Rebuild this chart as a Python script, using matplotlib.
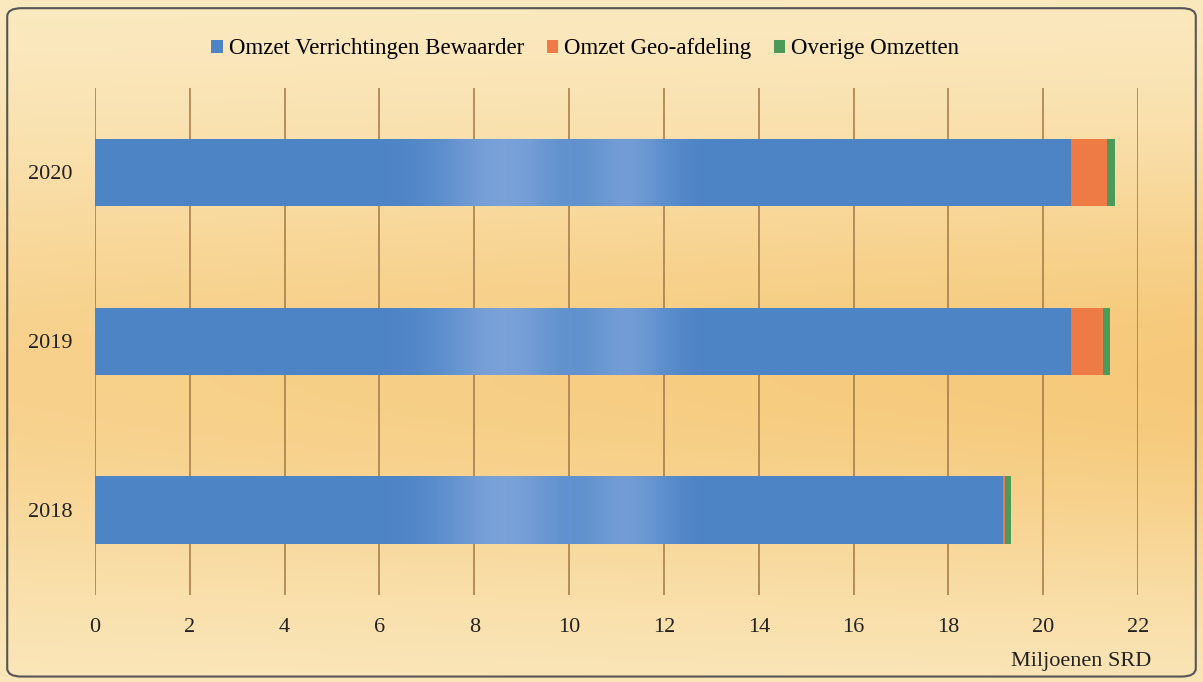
import numpy as np
import matplotlib.pyplot as plt
from matplotlib.patches import FancyBboxPatch
from matplotlib.colors import LinearSegmentedColormap

years = ["2018", "2019", "2020"]
series_names = ["Omzet Verrichtingen Bewaarder", "Omzet Geo-afdeling", "Overige Omzetten"]
bewaarder = [19.15, 20.57, 20.57]
geo = [0.04, 0.70, 0.78]
overige = [0.12, 0.13, 0.17]
colors = ["#4d84c6", "#ee7a46", "#4c9a57"]
x_ticks = list(range(0, 23, 2))

plt.rcParams["font.family"] = ["Liberation Serif", "DejaVu Serif"]

fig = plt.figure(figsize=(12.03, 6.82), dpi=100)

# background gradient
bg = fig.add_axes([0, 0, 1, 1], zorder=-10)
yy = np.linspace(0, 1, 300)[:, None]
xx = np.linspace(0, 1, 400)[None, :]
t = np.exp(-((yy - 0.55) / 0.35) ** 2) * (0.75 + 0.25 * xx)
bg_cmap = LinearSegmentedColormap.from_list("bg", ["#fbebc4", "#f6c97a"])
bg.imshow(t, cmap=bg_cmap, aspect="auto", extent=[0, 1, 0, 1], origin="upper", vmin=0, vmax=1)
bg.set_xlim(0, 1)
bg.set_ylim(0, 1)
bg.axis("off")
frame = FancyBboxPatch((0.006, 0.008), 0.988, 0.98, boxstyle="round,pad=0,rounding_size=0.012",
                       transform=fig.transFigure, fill=False, edgecolor="#555555", linewidth=1.5)
fig.patches.append(frame)

ax = fig.add_axes([0.079, 0.128, 0.867, 0.743])
ax.set_facecolor("none")
y = np.arange(len(years))
h = 0.4

left = np.zeros(len(years))
bars = []
for vals, c, name in zip([bewaarder, geo, overige], colors, series_names):
    b = ax.barh(y, vals, height=h, left=left, color=c, label=name, zorder=3, linewidth=0)
    bars.append(b)
    left = left + np.array(vals)

# subtle sheen on the blue bars
gx = np.linspace(0, 22, 600)
sheen = (np.exp(-((gx - 8.6) / 1.3) ** 2) + 0.8 * np.exp(-((gx - 11.2) / 0.9) ** 2))[None, :]
sheen_cmap = LinearSegmentedColormap.from_list("sheen", ["#4d84c6", "#7aa2d8"])
for rect in bars[0]:
    im = ax.imshow(sheen, cmap=sheen_cmap, aspect="auto", extent=[0, 22, rect.get_y(), rect.get_y() + h],
                   zorder=3.5, vmin=0, vmax=1)
    im.set_clip_path(rect)

ax.set_xlim(0, 22)
ax.set_ylim(-0.5, 2.5)
ax.set_xticks(x_ticks)
ax.set_yticks(y)
ax.set_yticklabels(years)
ax.grid(axis="x", color="#a97f4c", linewidth=1.2, zorder=1)
for s in ax.spines.values():
    s.set_visible(False)
ax.tick_params(length=0, labelsize=16, colors="#222222")
ax.tick_params(axis="x", pad=17)
ax.tick_params(axis="y", pad=16)

fig.text(0.957, 0.03, "Miljoenen SRD", ha="right", va="center", fontsize=16, color="#222222")

ax.legend(loc="center", bbox_to_anchor=(0.47, 1.077), ncol=3, frameon=False, fontsize=16.5,
          handlelength=0.5, handleheight=0.5, handletextpad=0.25, columnspacing=1.0)

fig.savefig("out.png", dpi=100)
